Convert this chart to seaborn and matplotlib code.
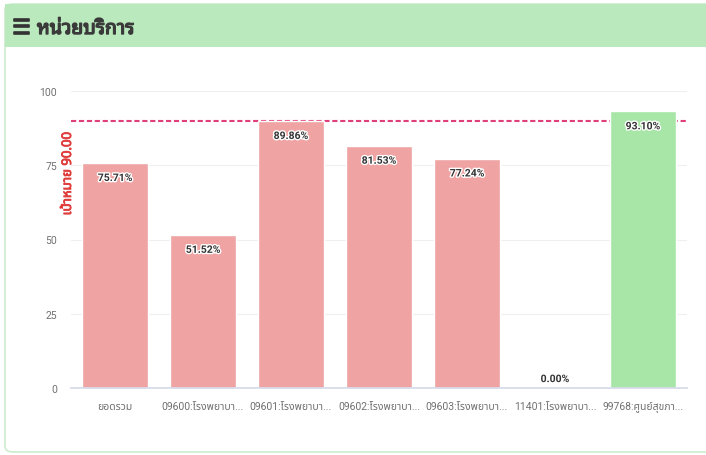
import matplotlib
matplotlib.use("Agg")
import matplotlib.pyplot as plt
import matplotlib.patheffects as pe
from matplotlib.patches import FancyBboxPatch, Rectangle
import seaborn as sns
import pandas as pd

# data
units = ["ยอดรวม", "09600:โรงพยาบา...", "09601:โรงพยาบา...", "09602:โรงพยาบา...",
         "09603:โรงพยาบา...", "11401:โรงพยาบา...", "99768:ศูนย์สุขภา..."]
rates = [75.71, 51.52, 89.86, 81.53, 77.24, 0.00, 93.10]
target = 90.0
title = "หน่วยบริการ"
target_label = "เป้าหมาย 90.00"

df = pd.DataFrame({"unit": units, "rate": rates})
df["pass"] = ["ok" if r >= target else "low" for r in rates]

sns.set_theme(style="white")
plt.rcParams["font.family"] = ["Roboto", "Noto Sans Thai"]

fig = plt.figure(figsize=(7.06, 4.56), dpi=100)
W, H = 706, 456

# card + header
card = FancyBboxPatch((5 / W, 3 / H), 720 / W, 448 / H, boxstyle="round,pad=0,rounding_size=0.012",
                      transform=fig.transFigure, facecolor="white", edgecolor="#cdeccf", lw=1.2, zorder=-3)
fig.patches.append(card)
head = Rectangle((5 / W, (H - 48) / H), 720 / W, 43 / H, transform=fig.transFigure,
                 facecolor="#b9e9bd", edgecolor="none", zorder=-2)
fig.patches.append(head)
fig.text(12 / W, (H - 29) / H, "☰", family="DejaVu Sans", fontsize=15, fontweight="bold",
         color="#333333", va="center", ha="left",
         path_effects=[pe.withStroke(linewidth=1.2, foreground="#333333")])
fig.text(37 / W, (H - 30) / H, title, family=["Noto Sans Thai Looped", "Noto Sans Thai"],
         fontsize=14, color="#3a3a3a", va="center", ha="left",
         path_effects=[pe.withStroke(linewidth=1.0, foreground="#3a3a3a")])

ax = fig.add_axes([71 / W, 67 / H, 616 / W, 297 / H])
ax.patch.set_alpha(0)
sns.barplot(data=df, x="unit", y="rate", hue="pass", palette={"low": "#f0a3a3", "ok": "#a8e6a8"},
            width=0.74, dodge=False, legend=False, saturation=1, ax=ax, zorder=2)
ax.set_ylim(0, 100)
ax.set_xlim(-0.5, len(units) - 0.5)
ax.set_yticks([0, 25, 50, 75, 100])
ax.grid(axis="y", color="#efefef", lw=0.8, zorder=0)
ax.set_axisbelow(True)
for s in ["top", "right", "left"]:
    ax.spines[s].set_visible(False)
ax.spines["bottom"].set_color("#d5dbe8")
ax.tick_params(axis="both", length=0, labelsize=7.5, labelcolor="#707070")
ax.tick_params(axis="y", pad=10)
ax.tick_params(axis="x", pad=9.5)
ax.set_xlabel("")
ax.set_ylabel("")

# data labels
halo = [pe.withStroke(linewidth=2, foreground="white")]
for i, r in enumerate(rates):
    y = r - 5 if r > 8 else r + 3
    ax.text(i, y, f"{r:.2f}%", ha="center", va="center", fontsize=7.5, fontweight="bold",
            color="#333333", path_effects=halo, zorder=5)

# target line (sits behind the bars)
ax.axhline(target, color="#e0407a", lw=1.5, ls=(0, (2.5, 1.3)), zorder=1.5)
ax.text(-0.54, target - 3.8, target_label, rotation=90, ha="center", va="top", fontsize=9.5,
        color="#e03c3c", family=["Noto Sans Thai", "Roboto"], zorder=6,
        path_effects=[pe.withStroke(linewidth=0.6, foreground="#e03c3c")])

fig.savefig("out.png", dpi=100)
